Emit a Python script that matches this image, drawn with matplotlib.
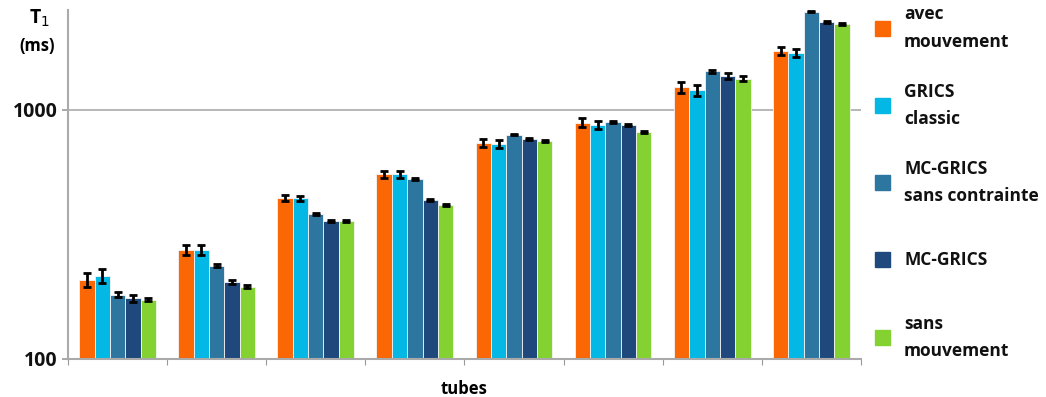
import matplotlib.pyplot as plt
from matplotlib.patches import Rectangle
import numpy as np

series = ['avec\nmouvement', 'GRICS\nclassic', 'MC-GRICS\nsans contrainte',
          'MC-GRICS', 'sans\nmouvement']
colors = ['#FA6704', '#03B8E5', '#2D76A0', '#1F497D', '#83D232']

avec = [208, 274, 444, 552, 739, 887, 1234, 1726]
grics = [215, 274, 441, 552, 730, 871, 1203, 1694]
mc_sans = [181, 237, 382, 528, 796, 895, 1430, 2480]
mc_grics = [175, 203, 358, 434, 763, 871, 1369, 2257]
sans = [173, 195, 358, 415, 749, 816, 1336, 2209]

err_avec = [14, 12, 12, 18, 28, 37, 63, 70]
err_grics = [14, 12, 12, 18, 30, 35, 61, 68]
err_mc_sans = [4, 3, 2, 3, 5, 6, 20, 15]
err_mc_grics = [5, 4, 4, 4, 8, 10, 34, 20]
err_sans = [2, 3, 3, 4, 6, 6, 28, 15]

values = [avec, grics, mc_sans, mc_grics, sans]
errors = [err_avec, err_grics, err_mc_sans, err_mc_grics, err_sans]

plt.rcParams['font.family'] = ['Open Sans', 'DejaVu Sans']

W, H = 1046, 397
fig = plt.figure(figsize=(W / 100, H / 100), dpi=100)
ax = fig.add_axes([0.065, 0.096, 0.758, 0.879])

x = np.arange(len(avec))
w = 0.155
for i in range(5):
    ax.bar(x + (i - 2) * w, values[i], w, color=colors[i], edgecolor='#f4f4f4',
           linewidth=0.6, zorder=2)
    ax.errorbar(x + (i - 2) * w, values[i], yerr=errors[i], fmt='none',
                ecolor='black', elinewidth=2, capsize=3, capthick=2, zorder=3)

ax.set_yscale('log')
ax.set_ylim(100, 2520)
ax.set_xlim(-0.5, len(avec) - 0.5)
ax.set_yticks([100, 1000])
ax.set_yticklabels(['100', '1000'], fontsize=14, fontweight='bold', color='#111111')
ax.yaxis.set_minor_locator(plt.NullLocator())
ax.set_xticks(np.arange(len(avec) + 1) - 0.5)
ax.set_xticklabels([])
ax.tick_params(axis='x', length=4, color='#999999', direction='out')
ax.tick_params(axis='y', length=4, color='#999999', width=1.2)
ax.axhline(1000, color='#aaaaaa', linewidth=1.2, zorder=1)

for s in ['top', 'right']:
    ax.spines[s].set_visible(False)
for s in ['left', 'bottom']:
    ax.spines[s].set_color('#aaaaaa')
    ax.spines[s].set_linewidth(1.5)

ax.set_xlabel('tubes', fontsize=12, fontweight='bold', labelpad=8)
fig.text(0.048, 0.955, 'T$_1$', fontsize=14, fontweight='bold', ha='right', va='center')
fig.text(0.052, 0.885, '(ms)', fontsize=12, fontweight='bold', ha='right', va='center')

# legend drawn by hand: evenly spaced entries on the right
for i, (lab, c) in enumerate(zip(series, colors)):
    yc = 28 + 77.3 * i
    fig.patches.append(Rectangle((875 / W, 1 - (yc + 7.5) / H), 15 / W, 15 / H,
                                 transform=fig.transFigure, color=c))
    fig.text(904 / W, 1 - yc / H, lab, fontsize=12.5, fontweight='bold',
             color='#111111', va='center', ha='left', linespacing=1.65)

fig.savefig('out.png', dpi=100)
